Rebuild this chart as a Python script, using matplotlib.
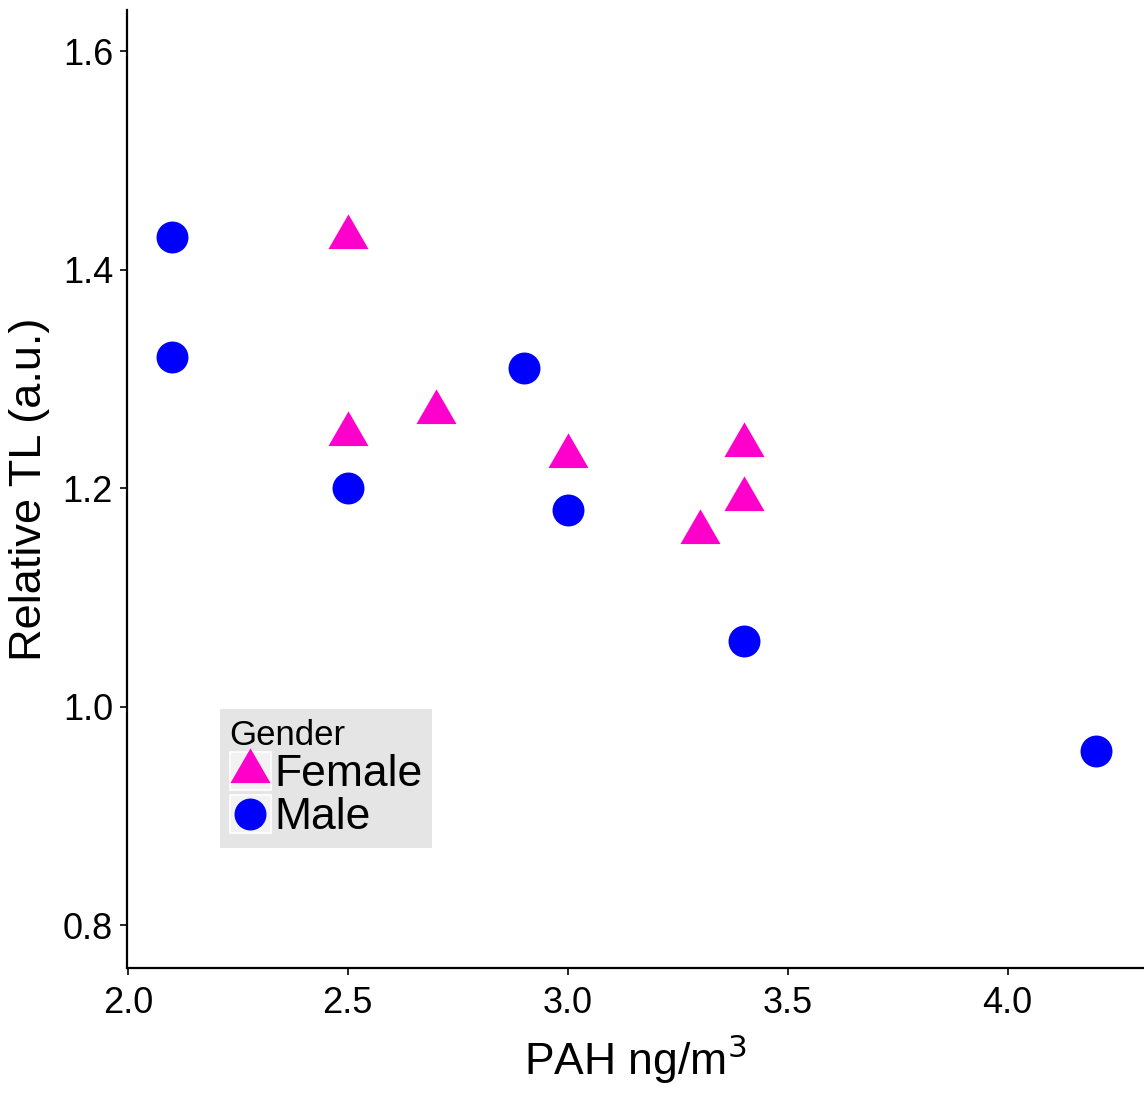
import matplotlib
matplotlib.use("Agg")
import matplotlib.pyplot as plt
import numpy as np
from matplotlib.path import Path
from matplotlib.markers import MarkerStyle
from matplotlib.lines import Line2D
from matplotlib.patches import Rectangle
from matplotlib.legend_handler import HandlerBase

plt.rcParams['font.family'] = ['Liberation Sans', 'DejaVu Sans']

male_x = [2.1, 2.1, 2.5, 2.9, 3.0, 3.4, 4.2]
male_y = [1.43, 1.32, 1.20, 1.31, 1.18, 1.06, 0.96]
female_x = [2.5, 2.5, 2.7, 3.0, 3.3, 3.4, 3.4]
female_y = [1.43, 1.25, 1.27, 1.23, 1.16, 1.24, 1.19]
x_ticks = [2.0, 2.5, 3.0, 3.5, 4.0]
y_ticks = [0.8, 1.0, 1.2, 1.4, 1.6]

c_female = '#FF00CC'
c_male = '#0000FF'

# equilateral triangle, centroid at origin
tri_path = Path([(0, 0.57735), (-0.5, -0.288675), (0.5, -0.288675), (0, 0.57735)],
                [Path.MOVETO, Path.LINETO, Path.LINETO, Path.CLOSEPOLY])
tri = MarkerStyle(tri_path)
tri_ms = 33.3   # points
circ_ms = 23.0  # points

fig = plt.figure(figsize=(11.44, 10.93), dpi=100)
ax = fig.add_axes([0.111, 0.1144, 0.889, 0.8765])

ax.scatter(female_x, female_y, marker=tri, s=tri_ms ** 2, color=c_female, linewidths=0, zorder=3)
ax.scatter(male_x, male_y, marker='o', s=circ_ms ** 2, color=c_male, linewidths=0, zorder=3)

ax.set_xlim(1.998, 4.31)
ax.set_ylim(0.761, 1.638)
ax.set_xticks(x_ticks)
ax.set_xticklabels([f'{v:.1f}' for v in x_ticks])
ax.set_yticks(y_ticks)
ax.set_yticklabels([f'{v:.1f}' for v in y_ticks])

for s in ['top', 'right']:
    ax.spines[s].set_visible(False)
for s in ['left', 'bottom']:
    ax.spines[s].set_linewidth(1.6)
    ax.spines[s].set_color('black')
ax.tick_params(axis='both', direction='out', length=5, width=1.2, labelsize=26, colors='black')
ax.tick_params(axis='y', pad=5)
ax.tick_params(axis='x', pad=8)

ax.set_xlabel('PAH ng/m$^3$', fontsize=32, labelpad=8)
ax.set_ylabel('Relative TL (a.u.)', fontsize=32.5, labelpad=9)


class KeyHandler(HandlerBase):
    def create_artists(self, legend, orig_handle, xdescent, ydescent, width, height, fontsize, trans):
        rect = Rectangle((-xdescent, -ydescent), width, height, facecolor='#F2F2F2',
                         edgecolor='white', linewidth=1.2, transform=trans)
        mk = Line2D([width / 2 - xdescent], [height / 2 - ydescent], linestyle='',
                    marker=orig_handle.get_marker(), markersize=orig_handle.get_markersize(),
                    markerfacecolor=orig_handle.get_markerfacecolor(), markeredgewidth=0,
                    transform=trans)
        return [rect, mk]


h_f = Line2D([], [], linestyle='', marker=tri, markersize=tri_ms, markerfacecolor=c_female, markeredgewidth=0)
h_m = Line2D([], [], linestyle='', marker='o', markersize=circ_ms, markerfacecolor=c_male, markeredgewidth=0)

leg = ax.legend([h_f, h_m], ['Female', 'Male'], title='Gender', loc='lower left',
                bbox_to_anchor=(0.0914, 0.1253), borderaxespad=0, fontsize=32,
                title_fontsize=25, frameon=True, fancybox=False,
                handlelength=0.92, handleheight=0.92, handletextpad=0.08,
                labelspacing=0.0, borderpad=0.22,
                handler_map={Line2D: KeyHandler()})
leg._legend_box.align = 'left'
fr = leg.get_frame()
fr.set_facecolor('#E5E5E5')
fr.set_edgecolor('none')
fr.set_alpha(1.0)

fig.savefig('out.png', dpi=100)
